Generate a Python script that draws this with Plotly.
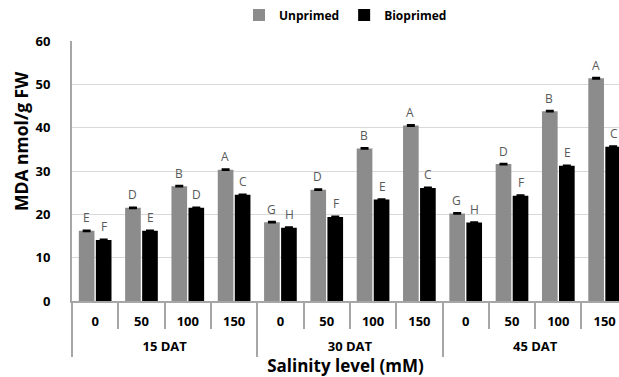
import plotly.graph_objects as go

group_names = ["15 DAT", "30 DAT", "45 DAT"]
salinity_levels = ["0", "50", "100", "150"]
groups = ["15 DAT"] * 4 + ["30 DAT"] * 4 + ["45 DAT"] * 4
salinity = ["0", "50", "100", "150"] * 3
unprimed = [16.2, 21.5, 26.5, 30.3, 18.2, 25.7, 35.2, 40.5, 20.2, 31.6, 43.8, 51.4]
bioprimed = [14.1, 16.2, 21.5, 24.5, 16.9, 19.4, 23.4, 26.1, 18.1, 24.3, 31.2, 35.6]
unprimed_err = [0.15] * 12
bioprimed_err = [0.15] * 12
unprimed_letters = ["E", "D", "B", "A", "G", "D", "B", "A", "G", "D", "B", "A"]
bioprimed_letters = ["F", "E", "D", "C", "H", "F", "E", "C", "H", "F", "E", "C"]

FONT = "Open Sans"
GRAY_AX = "#a6a6a6"
cats = [f"{g}|{s}" for g, s in zip(groups, salinity)]
n = len(cats)
per = len(salinity_levels)
xrange_ = [-0.5, n - 0.69]

fig = go.Figure()
fig.add_trace(go.Bar(
    x=cats, y=unprimed, name="Unprimed", marker_color="#8c8c8c", marker_line_width=0,
    error_y=dict(type="data", array=unprimed_err, color="black", thickness=1.5, width=4),
    hoverinfo="y",
))
fig.add_trace(go.Bar(
    x=cats, y=bioprimed, name="Bioprimed", marker_color="#000000", marker_line_width=0,
    error_y=dict(type="data", array=bioprimed_err, color="black", thickness=1.5, width=4),
    hoverinfo="y",
))
# empty helper traces so the overlay axes (category boundaries, group dividers, group labels) are drawn
for ax in ["x2", "x3", "x4"]:
    fig.add_trace(go.Scatter(x=[None], y=[None], xaxis=ax, yaxis="y", mode="markers",
                             showlegend=False, hoverinfo="skip"))

annotations = []
for c, v, t in zip(cats, unprimed, unprimed_letters):
    annotations.append(dict(x=c, y=v, text=t, xref="x", yref="y", showarrow=False,
                            xshift=-9, yshift=13, yanchor="middle",
                            font=dict(family=FONT, size=12, color="#595959")))
for c, v, t in zip(cats, bioprimed, bioprimed_letters):
    annotations.append(dict(x=c, y=v, text=t, xref="x", yref="y", showarrow=False,
                            xshift=9, yshift=13, yanchor="middle",
                            font=dict(family=FONT, size=12, color="#595959")))
annotations.append(dict(text="MDA nmol/g FW", xref="paper", yref="paper",
                        x=(21 - 72) / 547, y=(301 - 142) / 260, textangle=-90,
                        xanchor="center", yanchor="middle", showarrow=False,
                        font=dict(family=FONT, size=17.5, color="#000000", weight="bold")))

fig.update_layout(
    width=619, height=377,
    margin=dict(l=72, r=0, t=41, b=76),
    paper_bgcolor="white", plot_bgcolor="white",
    barmode="group", bargap=0.265, bargroupgap=0.08,
    font=dict(family=FONT, color="#000000"),
    showlegend=True,
    legend=dict(orientation="h", x=0.5, xanchor="center", y=1 - 15 / 377, yanchor="middle",
                yref="container", font=dict(family=FONT, size=12, color="#000000", weight="bold"),
                itemwidth=30, traceorder="normal"),
    annotations=annotations,
    xaxis=dict(
        type="category", range=xrange_, autorange=False,
        tickvals=cats, ticktext=salinity,
        showline=True, linecolor=GRAY_AX, linewidth=1.5,
        ticks="", ticklabelstandoff=8,
        tickfont=dict(family=FONT, size=13, color="#000000", weight="bold"),
        showgrid=False, zeroline=False,
    ),
    xaxis2=dict(
        overlaying="x", anchor="y", range=xrange_, autorange=False,
        tickmode="array", tickvals=[i - 0.5 for i in range(n + 1)],
        ticks="outside", ticklen=27, tickcolor=GRAY_AX, tickwidth=1.5,
        showticklabels=False, showgrid=False, zeroline=False, showline=False,
    ),
    xaxis3=dict(
        overlaying="x", anchor="y", range=xrange_, autorange=False,
        tickmode="array", tickvals=[k * per - 0.5 for k in range(len(group_names) + 1)],
        ticks="outside", ticklen=55, tickcolor=GRAY_AX, tickwidth=1.5,
        showticklabels=False, showgrid=False, zeroline=False, showline=False,
    ),
    xaxis4=dict(
        overlaying="x", anchor="y", range=xrange_, autorange=False,
        tickmode="array", tickvals=[k * per + (per - 1) / 2 for k in range(len(group_names))],
        ticktext=group_names, ticks="", ticklabelstandoff=36,
        tickfont=dict(family=FONT, size=13, color="#000000", weight="bold"),
        showgrid=False, zeroline=False, showline=False,
        title=dict(text="Salinity level (mM)", font=dict(family=FONT, size=17, color="#000000", weight="bold"), standoff=0),
    ),
    yaxis=dict(
        range=[0, 60], dtick=10, autorange=False,
        showgrid=True, gridcolor="#d9d9d9", gridwidth=1,
        showline=True, linecolor=GRAY_AX, linewidth=2,
        ticks="", ticklabelstandoff=17,
        tickfont=dict(family=FONT, size=13, color="#000000", weight="bold"),
        zeroline=False,
    ),
)

fig.write_html("out.html")
